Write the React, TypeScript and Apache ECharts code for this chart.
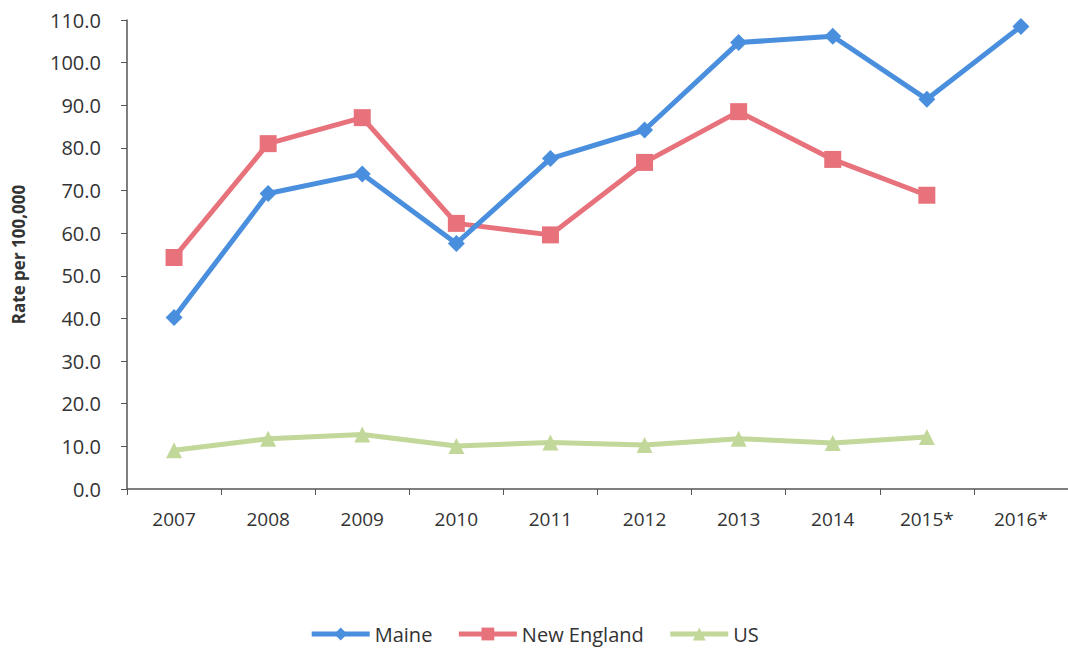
import React, { useEffect, useRef } from "react";
import * as echarts from "echarts";

const categories = ["2007", "2008", "2009", "2010", "2011", "2012", "2013", "2014", "2015*", "2016*"];
const maine = [40.2, 69.3, 73.9, 57.6, 77.5, 84.2, 104.7, 106.2, 91.4, 108.5];
const newEngland = [54.3, 81.0, 87.1, 62.3, 59.6, 76.6, 88.5, 77.3, 68.9, null];
const us = [9.1, 11.8, 12.8, 10.1, 10.9, 10.3, 11.8, 10.8, 12.2, null];
const yTicks = { min: 0, max: 110, interval: 10 };

const FONT = "'Open Sans', 'Noto Sans', sans-serif";

export default function App() {
  const ref = useRef<HTMLDivElement>(null);
  useEffect(() => {
    if (!ref.current) return;
    const chart = echarts.init(ref.current, undefined, { renderer: "svg" });
    chart.setOption({
      animation: false,
      backgroundColor: "#ffffff",
      textStyle: { fontFamily: FONT },
      grid: { left: 127, top: 20, right: 0, bottom: 164, containLabel: false },
      legend: {
        bottom: 4,
        left: "center",
        itemWidth: 58,
        itemHeight: 16,
        itemGap: 24,
        lineStyle: { width: 5 },
        textStyle: { fontFamily: FONT, fontSize: 20, color: "#333" },
        data: ["Maine", "New England", "US"],
      },
      xAxis: {
        type: "category",
        data: categories,
        boundaryGap: true,
        axisLine: { lineStyle: { color: "#555", width: 1.5 } },
        axisTick: { show: true, inside: false, length: 6, lineStyle: { color: "#555" } },
        axisLabel: { color: "#333", fontSize: 19, margin: 20, fontFamily: FONT },
        splitLine: { show: false },
      },
      yAxis: {
        type: "value",
        min: yTicks.min,
        max: yTicks.max,
        interval: yTicks.interval,
        name: "Rate per 100,000",
        nameLocation: "middle",
        nameGap: 100,
        nameRotate: 90,
        nameTextStyle: { fontWeight: "bold", fontSize: 17, color: "#333", fontFamily: FONT },
        axisLine: { show: true, lineStyle: { color: "#555", width: 1.5 } },
        axisTick: { show: true, inside: false, length: 6, lineStyle: { color: "#555" } },
        axisLabel: {
          color: "#333",
          fontSize: 20,
          margin: 26,
          fontFamily: FONT,
          formatter: (v: number) => v.toFixed(1),
        },
        splitLine: { show: false },
      },
      series: [
        {
          name: "Maine",
          type: "line",
          data: maine,
          color: "#4a8ede",
          symbol: "diamond",
          symbolSize: 17,
          lineStyle: { width: 5, color: "#4a8ede" },
          itemStyle: { color: "#4a8ede" },
          z: 3,
        },
        {
          name: "New England",
          type: "line",
          data: newEngland,
          color: "#e8727c",
          symbol: "rect",
          symbolSize: 17,
          lineStyle: { width: 5, color: "#e8727c" },
          itemStyle: { color: "#e8727c" },
          z: 2,
        },
        {
          name: "US",
          type: "line",
          data: us,
          color: "#c2d89a",
          symbol: "triangle",
          symbolSize: 16,
          lineStyle: { width: 5, color: "#c2d89a" },
          itemStyle: { color: "#c2d89a" },
          z: 1,
        },
      ],
    });
    return () => chart.dispose();
  }, []);
  return <div ref={ref} style={{ width: 1068, height: 653, position: "absolute", left: 0, top: 0 }} />;
}
